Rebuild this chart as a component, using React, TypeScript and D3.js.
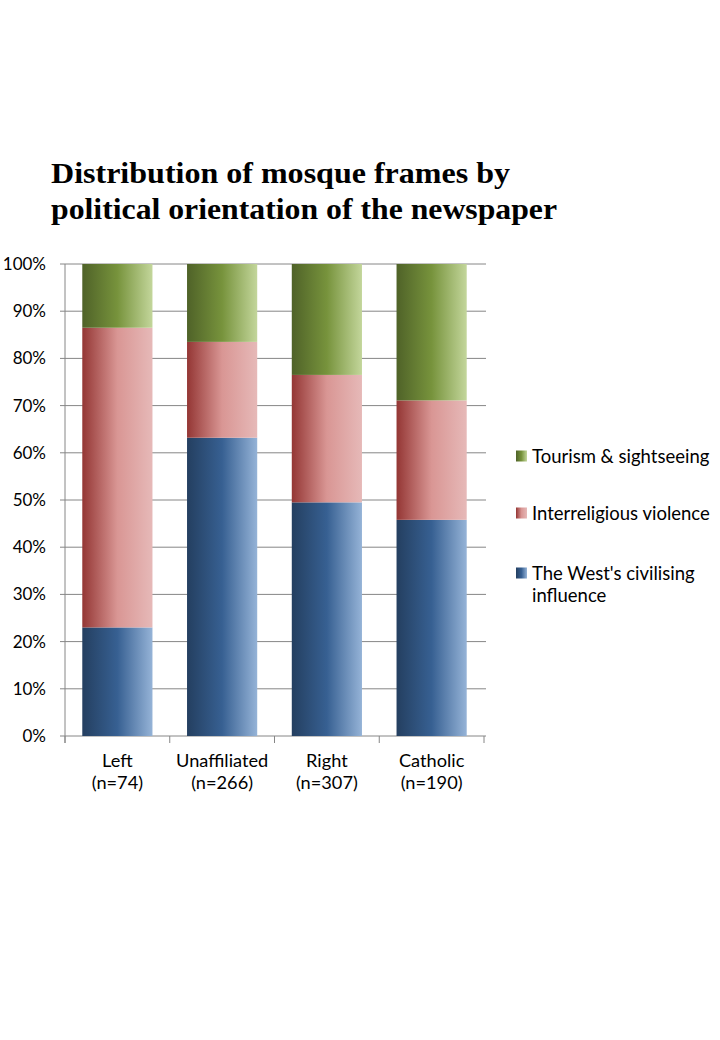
import React from "react";
import * as d3 from "d3";

const categories = ["Left", "Unaffiliated", "Right", "Catholic"];
const sampleSizes = ["(n=74)", "(n=266)", "(n=307)", "(n=190)"];
const westValues = [23.0, 63.2, 49.5, 45.8];
const violenceValues = [63.5, 20.3, 27.0, 25.3];
const tourismValues = [13.5, 16.5, 23.5, 28.9];
const seriesNames = ["The West's civilising influence", "Interreligious violence", "Tourism & sightseeing"];
const yTicks = [0, 10, 20, 30, 40, 50, 60, 70, 80, 90, 100];

const gradients = [
  { id: "gBlue", stops: ["#243f60", "#376092", "#95b3d7"] },
  { id: "gRed", stops: ["#943634", "#d99694", "#e6b9b8"] },
  { id: "gGreen", stops: ["#4f6228", "#77933c", "#c3d69b"] },
];

export default function App() {
  const W = 720, H = 1040;
  const x0 = 65, x1 = 484, yTop = 264, yBot = 736;
  const x = d3.scaleBand<string>().domain(categories).range([x0, x1]).paddingInner(0.33).paddingOuter(0.165);
  const y = d3.scaleLinear().domain([0, 100]).range([yBot, yTop]);
  const rows = categories.map((c, i) => ({ cat: c, w: westValues[i], v: violenceValues[i], t: tourismValues[i] }));
  const stack = d3.stack<any>().keys(["w", "v", "t"])(rows);
  const step = (x1 - x0) / categories.length;
  const tickFont = "Lato, 'Open Sans', sans-serif";

  return (
    <svg width={W} height={H} style={{ position: "absolute", left: 0, top: 0, background: "#fff" }}>
      <defs>
        {gradients.map((g) => (
          <linearGradient key={g.id} id={g.id} x1="0" y1="0" x2="1" y2="0">
            <stop offset="0" stopColor={g.stops[0]} />
            <stop offset="0.5" stopColor={g.stops[1]} />
            <stop offset="1" stopColor={g.stops[2]} />
          </linearGradient>
        ))}
      </defs>
      <rect width={W} height={H} fill="#fff" />
      <g fontFamily="'Liberation Serif', 'DejaVu Serif', serif" fontWeight="bold" fontSize={29} fill="#000">
        <text x={51} y={183} textLength={459} lengthAdjust="spacingAndGlyphs">Distribution of mosque frames by</text>
        <text x={51} y={219} textLength={506} lengthAdjust="spacingAndGlyphs">political orientation of the newspaper</text>
      </g>
      {yTicks.map((t) => (
        <line key={t} x1={x0 - 5} x2={x1 + 2} y1={y(t)} y2={y(t)} stroke="#868686" strokeWidth={1} />
      ))}
      <line x1={x0} x2={x0} y1={yTop} y2={yBot + 7} stroke="#868686" strokeWidth={1} />
      {d3.range(categories.length + 1).map((i) => (
        <line key={i} x1={x0 + i * step} x2={x0 + i * step} y1={yBot} y2={yBot + 7} stroke="#868686" strokeWidth={1} />
      ))}
      {stack.map((s, si) => (
        <g key={si} fill={`url(#${gradients[si].id})`}>
          {s.map((d, i) => (
            <rect key={i} x={x(categories[i])} width={x.bandwidth()} y={y(d[1])} height={y(d[0]) - y(d[1])} />
          ))}
        </g>
      ))}
      <g fontFamily={tickFont} fontSize={17} fill="#000" textAnchor="end">
        {yTicks.map((t) => (
          <text key={t} x={46} y={y(t) + 6}>{t}%</text>
        ))}
      </g>
      <g fontFamily={tickFont} fontSize={18.2} fill="#000" textAnchor="middle">
        {categories.map((c, i) => (
          <g key={c}>
            <text x={(x(c) as number) + x.bandwidth() / 2} y={767}>{c}</text>
            <text x={(x(c) as number) + x.bandwidth() / 2} y={789}>{sampleSizes[i]}</text>
          </g>
        ))}
      </g>
      <g fontFamily={tickFont} fontSize={18.5} fill="#000">
        {[
          { gi: 2, lines: [seriesNames[2]], y: 456 },
          { gi: 1, lines: [seriesNames[1]], y: 513 },
          { gi: 0, lines: ["The West's civilising", "influence"], y: 573 },
        ].map((l) => (
          <g key={l.gi}>
            <rect x={516} y={l.y - 5.5} width={11} height={11} fill={`url(#${gradients[l.gi].id})`} />
            {l.lines.map((ln, k) => (
              <text key={k} x={532} y={l.y + 6.5 + k * 22}>{ln}</text>
            ))}
          </g>
        ))}
      </g>
    </svg>
  );
}
